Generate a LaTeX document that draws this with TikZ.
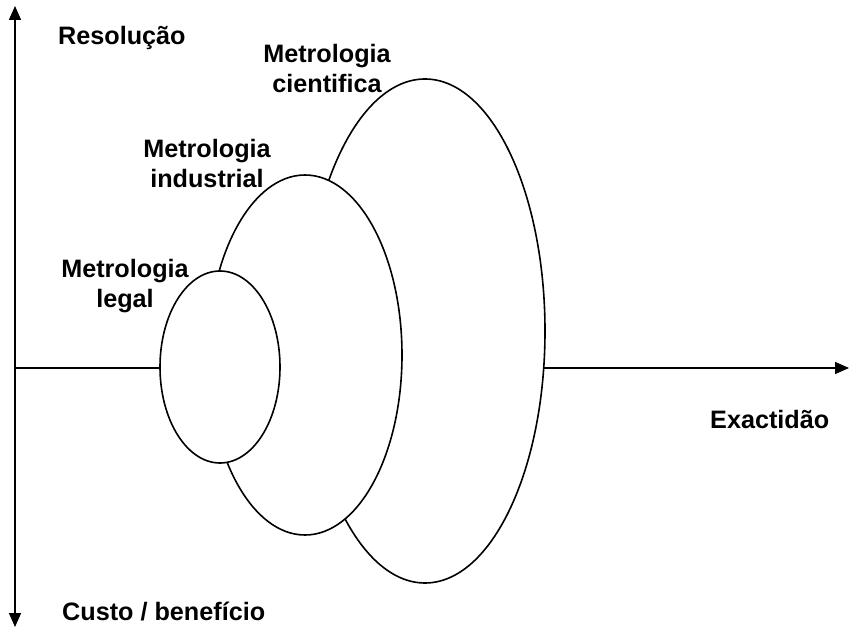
\documentclass[tikz,border=0pt]{standalone}
\usepackage{fontspec}
\setmainfont{Liberation Sans}
\usetikzlibrary{arrows.meta,shapes.geometric}
\begin{document}
\begin{tikzpicture}[x=1pt,y=-1pt,
  lbl/.style={font=\fontsize{25.2}{30}\selectfont\bfseries, inner sep=0pt},
  oval/.style={ellipse, draw, fill=white, line width=1.6pt, inner sep=0pt},
  axis/.style={line width=1.6pt, -{Triangle[length=14pt,width=12pt]}}]
\useasboundingbox (0,0) rectangle (849,628);
\coordinate (o) at (15,368);
\coordinate (top) at (15,6);
\coordinate (bot) at (15,627);
\coordinate (xend) at (849,368);
\draw[axis] (o) -- (top);
\draw[axis] (o) -- (bot);
\draw[axis] (o) -- (xend);
\node[oval, minimum width=240pt, minimum height=504pt] (cien) at (425,331) {};
\node[oval, minimum width=194pt, minimum height=360pt] (ind) at (305,355) {};
\node[oval, minimum width=120pt, minimum height=192pt] (leg) at (220,367) {};
\node[lbl, anchor=base west] (res) at (58,45) {Resolução};
\node[lbl, anchor=base west] (custo) at (62,620) {Custo / benefício};
\node[lbl, anchor=base west] (exa) at (710,428) {Exactidão};
\node[lbl, align=center, anchor=north] (tcien) at (327,44) {Metrologia\\cientifica};
\node[lbl, align=center, anchor=north] (tind) at (207,139) {Metrologia\\industrial};
\node[lbl, align=center, anchor=north] (tleg) at (125,259) {Metrologia\\legal};
\end{tikzpicture}
\end{document}
